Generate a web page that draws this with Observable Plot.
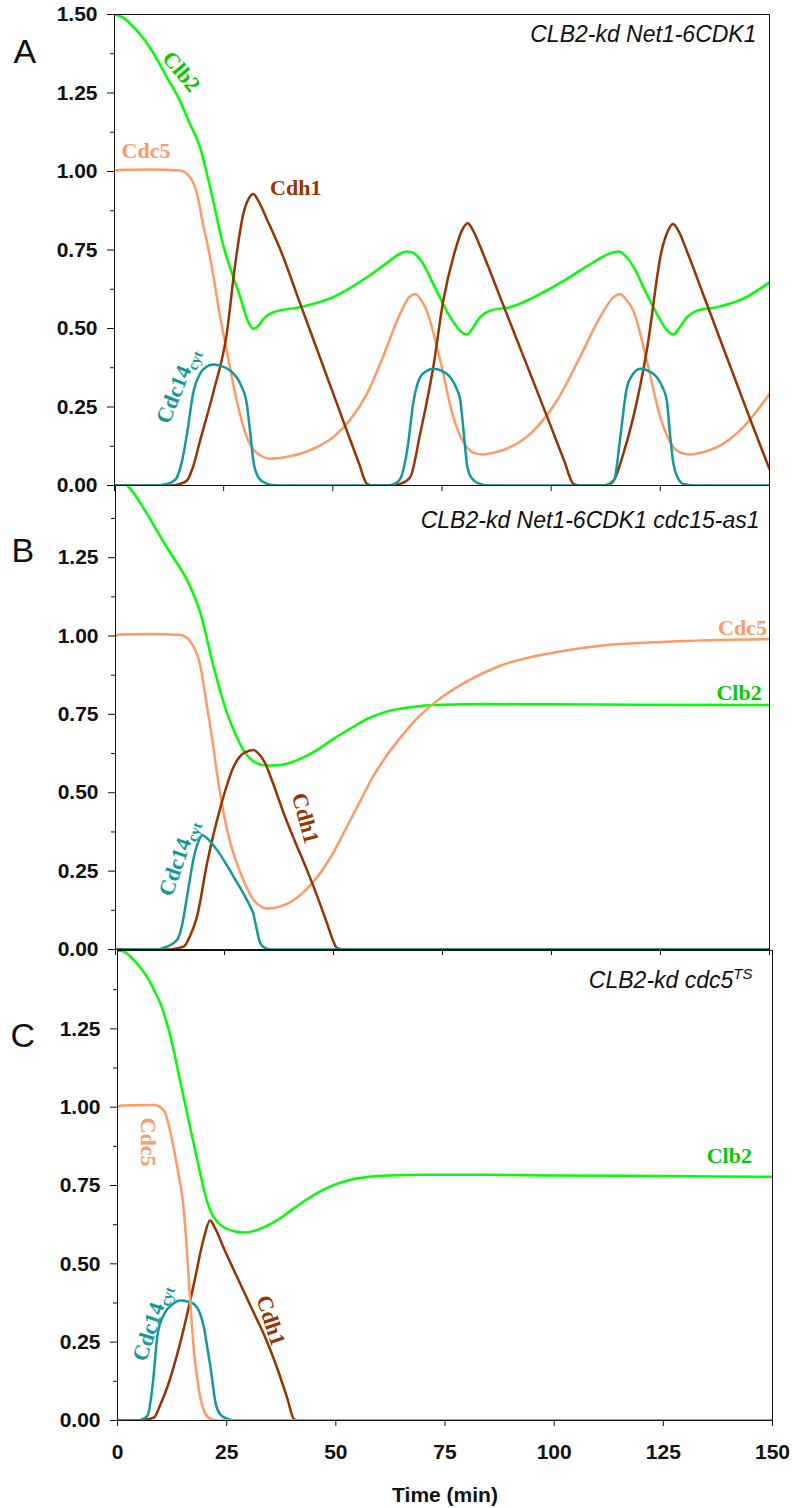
<!DOCTYPE html>
<html><head><meta charset="utf-8">
<script src="https://cdn.jsdelivr.net/npm/d3@7"></script>
<script src="https://cdn.jsdelivr.net/npm/@observablehq/plot@0.6"></script>
<style>
html,body{margin:0;padding:0;background:#fff;overflow:hidden;}
#wrap{position:relative;width:793px;height:1508px;}
#wrap svg{position:absolute;left:0;top:0;}
</style></head><body><div id="wrap"></div>
<script>
// ---------- tick values ----------
const timeTicks = [0, 25, 50, 75, 100, 125, 150];
const yTicksA = [0, 0.25, 0.5, 0.75, 1, 1.25, 1.5];
const yTicksBC = [0, 0.25, 0.5, 0.75, 1, 1.25];
const yMinorTicks = [0.125, 0.375, 0.625, 0.875, 1.125, 1.375];

// ---------- Panel A: CLB2-kd Net1-6CDK1 ----------
const clb2A = [[0,1.5],[2,1.49],[4,1.465],[6,1.435],[9,1.375],[12,1.30],[15,1.225],[17,1.16],[19.6,1.077],[21.9,0.95],[25,0.76],[26.8,0.68],[28.8,0.6],[30.5,0.525],[31.8,0.499],[33,0.51],[34.1,0.53],[36.4,0.552],[42.5,0.568],[50.1,0.6],[57.8,0.663],[62,0.705],[65.4,0.738],[67,0.745],[68.5,0.74],[70.5,0.71],[73,0.642],[76.9,0.536],[79,0.495],[80.7,0.481],[82.2,0.505],[83.7,0.536],[86,0.557],[90.6,0.568],[97.5,0.61],[103.6,0.658],[109.7,0.711],[114.3,0.743],[115.5,0.745],[117.3,0.727],[119.5,0.68],[121.1,0.632],[124.2,0.547],[126.5,0.495],[128,0.481],[129.5,0.505],[131.1,0.536],[133.4,0.557],[138,0.568],[144,0.595],[150,0.647]];
const cdc5A = [[0,1.0],[1,1.005],[8,1.006],[15,1.003],[17.3,0.982],[18.9,0.929],[20.4,0.823],[21.5,0.754],[22.7,0.663],[24.2,0.536],[25.7,0.43],[28,0.27],[30.3,0.154],[33.4,0.0955],[35.7,0.085],[38,0.088],[42.5,0.101],[46,0.12],[50.1,0.154],[54,0.21],[57.8,0.292],[61.5,0.41],[65.4,0.547],[67.5,0.6],[68.9,0.61],[70,0.595],[71.5,0.557],[74.6,0.398],[77.6,0.217],[80.7,0.122],[82.5,0.103],[84.5,0.099],[87,0.105],[90.6,0.122],[96,0.175],[101.3,0.27],[106.6,0.409],[111.2,0.536],[114.3,0.6],[115.8,0.61],[117,0.595],[118.8,0.557],[121.9,0.398],[125,0.217],[128,0.122],[130,0.103],[131.8,0.099],[134.5,0.105],[138,0.122],[144,0.186],[150,0.292]];
const cdh1A = [[0,0],[13,0],[14.5,0.003],[16.6,0.016],[18,0.06],[19.6,0.143],[22.7,0.3],[25.7,0.483],[27.6,0.7],[29.5,0.865],[30.8,0.915],[31.8,0.928],[33,0.905],[35,0.845],[37.9,0.754],[42.5,0.58],[47,0.41],[52,0.22],[56,0.07],[57.8,0.005],[59,0],[63,0],[65.4,0.005],[67.7,0.026],[70,0.165],[73,0.377],[75.3,0.589],[78,0.748],[79.5,0.81],[80.9,0.835],[82,0.815],[84.5,0.735],[88,0.611],[92.1,0.466],[96,0.328],[99.8,0.193],[103,0.078],[105.1,0.005],[106.5,0],[112,0],[114.3,0.016],[116.5,0.1],[118.8,0.217],[121.9,0.43],[125.3,0.748],[126.7,0.81],[127.9,0.833],[129,0.815],[131.4,0.735],[135,0.602],[138.7,0.465],[142,0.343],[145.6,0.21],[150,0.052]];
const cdc14A = [[0,0],[9,0],[12,0.005],[13.3,0.012],[14.3,0.026],[15.5,0.08],[16.6,0.165],[18.1,0.3],[19.6,0.356],[21,0.378],[22.7,0.385],[24.5,0.38],[26.5,0.366],[28.8,0.324],[30.3,0.26],[31.1,0.165],[31.9,0.069],[33,0.025],[34.1,0.011],[36,0.002],[40,0],[62,0],[64,0.004],[65.4,0.02],[67,0.11],[68.5,0.27],[70,0.345],[71.5,0.365],[73,0.372],[75,0.365],[76.9,0.345],[78.3,0.31],[79.2,0.27],[80,0.165],[80.7,0.069],[81.7,0.025],[83.7,0.005],[86,0],[112,0],[113.5,0.004],[114.5,0.02],[115.8,0.15],[117.3,0.31],[118.5,0.35],[120.4,0.372],[122.3,0.365],[124.2,0.345],[125.6,0.31],[126.5,0.27],[127.2,0.165],[128,0.069],[129,0.025],[130.3,0.005],[133,0],[150,0]];

// ---------- Panel B: CLB2-kd Net1-6CDK1 cdc15-as1 ----------
const clb2B = [[0,1.5],[2,1.49],[4.2,1.455],[7,1.395],[10.3,1.317],[13.5,1.245],[16.4,1.179],[19.5,1.072],[22.5,0.902],[25.6,0.753],[27.1,0.7],[29.4,0.635],[32,0.597],[34.8,0.587],[37.5,0.588],[40.1,0.596],[43,0.612],[46.2,0.636],[50,0.672],[53.9,0.705],[58,0.737],[62,0.758],[65.3,0.768],[70,0.777],[75,0.781],[85,0.783],[100,0.782],[120,0.781],[150,0.78]];
const cdc5B = [[0,1.0],[1,1.005],[8,1.006],[14.9,1.003],[17.2,0.982],[19.5,0.902],[21,0.774],[22.2,0.67],[23.3,0.56],[25.6,0.381],[28.7,0.243],[31.7,0.158],[34.8,0.131],[37.5,0.136],[40.9,0.158],[44,0.195],[47,0.245],[50,0.31],[53,0.39],[56,0.47],[59,0.55],[62,0.615],[65.3,0.675],[69,0.735],[73,0.785],[80.6,0.855],[88.2,0.905],[99.7,0.945],[111.2,0.969],[126.5,0.982],[150,0.99]];
const cdh1B = [[0,0],[12,0],[13.4,0.002],[15.7,0.01],[17,0.04],[18.7,0.105],[21,0.275],[24.1,0.455],[27.1,0.583],[29.5,0.627],[31.7,0.636],[33,0.622],[34.3,0.595],[36,0.535],[38.6,0.434],[41,0.35],[43.9,0.254],[46,0.18],[48.5,0.084],[50,0.025],[50.8,0.004],[52,0],[150,0]];
const cdc14B = [[0,0],[9,0],[11.8,0.009],[14.1,0.03],[15.3,0.08],[16.4,0.168],[18,0.296],[19.2,0.35],[19.9,0.365],[21,0.355],[23.3,0.317],[27.1,0.232],[30.9,0.137],[31.6,0.115],[32.1,0.084],[32.7,0.045],[33.2,0.02],[34.3,0.005],[35.5,0],[150,0]];

// ---------- Panel C: CLB2-kd cdc5TS ----------
const clb2C = [[0,1.5],[1.5,1.497],[3,1.48],[5,1.45],[6.9,1.413],[8.5,1.37],[9.9,1.328],[12.2,1.222],[14.5,1.073],[16.8,0.925],[18.3,0.83],[19.5,0.755],[20.5,0.7],[21.5,0.662],[23,0.632],[25,0.612],[27,0.603],[29,0.6],[31.5,0.606],[34.3,0.622],[37,0.643],[39.6,0.669],[42.7,0.7],[46,0.728],[49.6,0.752],[53,0.767],[57.2,0.777],[62,0.782],[70,0.784],[85,0.784],[100,0.782],[125,0.78],[150,0.778]];
const cdc5C = [[0,1.0],[1,1.005],[8.4,1.007],[10.7,0.988],[12.2,0.914],[13.7,0.807],[14.9,0.707],[15.2,0.669],[16.4,0.436],[17.5,0.223],[18.3,0.13],[19.1,0.064],[20,0.025],[21.3,0.005],[23,0],[150,0]];
const cdh1C = [[0,0],[5,0],[6.1,0.002],[8.4,0.01],[9.8,0.05],[11.4,0.106],[14.5,0.255],[17.5,0.436],[19.8,0.584],[21.2,0.638],[22.3,0.615],[24.5,0.545],[26.7,0.478],[30.5,0.365],[34.3,0.25],[36.5,0.17],[38.9,0.07],[40.4,0.005],[41.5,0],[150,0]];
const cdc14C = [[0,0],[4,0],[5.3,0.002],[6.9,0.016],[8,0.106],[9.2,0.276],[10.7,0.34],[12.5,0.37],[14.5,0.383],[16,0.38],[17.5,0.372],[18.8,0.345],[19.8,0.297],[20.6,0.23],[21.3,0.17],[22.5,0.053],[23.5,0.02],[25.2,0.005],[27,0],[150,0]];

// ---------- labels (data coordinates) ----------
const labelsA = [
  {s:"Clb2", text:"Clb2", t:15.3, v:1.318, rotate:50, anchor:"middle"},
  {s:"Cdc5", text:"Cdc5", t:7.2, v:1.064, rotate:0, anchor:"middle"},
  {s:"Cdh1", text:"Cdh1", t:41.5, v:0.949, rotate:0, anchor:"middle"},
  {s:"Cdc14", text:"Cdc14cyt", t:14.4, v:0.318, rotate:-68, anchor:"middle"}
];
const labelsB = [
  {s:"Cdc14", text:"Cdc14cyt", t:14.4, v:0.292, rotate:-71, anchor:"middle"},
  {s:"Cdh1", text:"Cdh1", t:43.5, v:0.419, rotate:75, anchor:"middle"},
  {s:"Cdc5", text:"Cdc5", t:149.4, v:1.025, rotate:0, anchor:"end"},
  {s:"Clb2", text:"Clb2", t:148.2, v:0.818, rotate:0, anchor:"end"}
];
const labelsC = [
  {s:"Cdc5", text:"Cdc5", t:6.9, v:0.889, rotate:90, anchor:"middle"},
  {s:"Cdc14", text:"Cdc14cyt", t:7.8, v:0.312, rotate:-72, anchor:"middle"},
  {s:"Cdh1", text:"Cdh1", t:35.1, v:0.319, rotate:72, anchor:"middle"},
  {s:"Clb2", text:"Clb2", t:145.3, v:0.845, rotate:0, anchor:"end"}
];

const lineColor = {Clb2:"#00ff00", Cdc5:"#ff9966", Cdh1:"#993300", Cdc14:"#129a9a"};
const labelColor = {Clb2:"#00cc00", Cdc5:"#ff9966", Cdh1:"#993300", Cdc14:"#129a9a"};

const SANS = "'Liberation Sans', Arial, Helvetica, sans-serif";
const SERIF = "'Liberation Serif', 'Times New Roman', serif";
const H = 1508, W = 793;

function panel(cfg) {
  const marks = [];
  for (const [name, data] of cfg.series) {
    marks.push(Plot.line(data, {x: d => d[0], y: d => d[1], stroke: lineColor[name], strokeWidth: 2.5, curve: "monotone-x", clip: true}));
  }
  marks.push(Plot.frame({stroke: "#111", strokeWidth: 1}));
  marks.push(Plot.axisY(cfg.yTicks, {tickSize: 7, tickPadding: 10, tickFormat: d3.format(".2f"), label: null, fontSize: 21, fontWeight: "bold", fontFamily: SANS}));
  marks.push(Plot.axisY(yMinorTicks.filter(d => d < cfg.yMax), {tickSize: 4, tickFormat: () => "", label: null}));
  marks.push(Plot.axisX(timeTicks, {tickSize: 6, tickPadding: 18, tickFormat: cfg.xLabels ? (d => String(d)) : (() => ""), label: null, fontSize: 21, fontWeight: "bold", fontFamily: SANS}));
  for (const L of cfg.labels) {
    marks.push(Plot.text([L], {x: "t", y: "v", text: "text", rotate: L.rotate, textAnchor: L.anchor, lineAnchor: "middle",
      fill: labelColor[L.s], fontFamily: SERIF, fontWeight: "bold", fontSize: 22}));
  }
  marks.push(Plot.text([cfg.note], {frameAnchor: "top-right", textAnchor: "end", lineAnchor: "top", dx: cfg.noteDx, dy: cfg.noteDy,
    fontFamily: SANS, fontStyle: "italic", fontSize: 23, fill: "#111"}));
  marks.push(Plot.text([cfg.letter], {frameAnchor: "top-left", textAnchor: "start", lineAnchor: "top", dx: cfg.letterDx, dy: cfg.letterDy,
    fontFamily: SANS, fontSize: 34, fill: "#111"}));
  if (cfg.xTitle) {
    marks.push(Plot.text([cfg.xTitle], {frameAnchor: "bottom", lineAnchor: "top", dy: 67, fontFamily: SANS, fontWeight: "bold", fontSize: 21, fill: "#111"}));
  }
  const svg = Plot.plot({
    width: W, height: H,
    marginTop: cfg.top, marginBottom: H - cfg.bottom, marginLeft: cfg.left, marginRight: W - cfg.right,
    x: {domain: [0, 150]},
    y: {domain: [0, cfg.yMax]},
    style: {background: "transparent", fontFamily: SANS, color: "#111", overflow: "visible"},
    marks
  });
  // subscripts / superscripts as real text
  d3.select(svg).selectAll("text").each(function () {
    const t = this.textContent;
    if (t === "Cdc14cyt") {
      const sel = d3.select(this); sel.text("Cdc14");
      sel.append("tspan").attr("font-size", 15).attr("dy", 5).text("cyt");
    } else if (t === "CLB2-kd cdc5TS") {
      const sel = d3.select(this); sel.text("CLB2-kd cdc5");
      sel.append("tspan").attr("font-size", 15).attr("dy", -9).text("TS");
    }
  });
  return svg;
}

const wrap = document.getElementById("wrap");
wrap.appendChild(panel({
  top: 14, bottom: 485, left: 114, right: 769, yMax: 1.5, yTicks: yTicksA, xLabels: false,
  series: [["Clb2", clb2A], ["Cdc5", cdc5A], ["Cdh1", cdh1A], ["Cdc14", cdc14A]],
  labels: labelsA, note: "CLB2-kd Net1-6CDK1", noteDx: -13, noteDy: 11, letter: "A", letterDx: -101, letterDy: 24
}));
wrap.appendChild(panel({
  top: 485, bottom: 949, left: 115, right: 769, yMax: (949 - 485) / 313.5, yTicks: yTicksBC, xLabels: false,
  series: [["Clb2", clb2B], ["Cdc5", cdc5B], ["Cdh1", cdh1B], ["Cdc14", cdc14B]],
  labels: labelsB, note: "CLB2-kd Net1-6CDK1 cdc15-as1", noteDx: -10, noteDy: 26, letter: "B", letterDx: -104, letterDy: 52
}));
wrap.appendChild(panel({
  top: 950, bottom: 1420, left: 117, right: 772, yMax: 1.5, yTicks: yTicksBC, xLabels: true, xTitle: "Time (min)",
  series: [["Clb2", clb2C], ["Cdh1", cdh1C], ["Cdc14", cdc14C], ["Cdc5", cdc5C]],
  labels: labelsC, note: "CLB2-kd cdc5TS", noteDx: -20, noteDy: 21, letter: "C", letterDx: -107, letterDy: 72
}));
</script>
</body></html>
